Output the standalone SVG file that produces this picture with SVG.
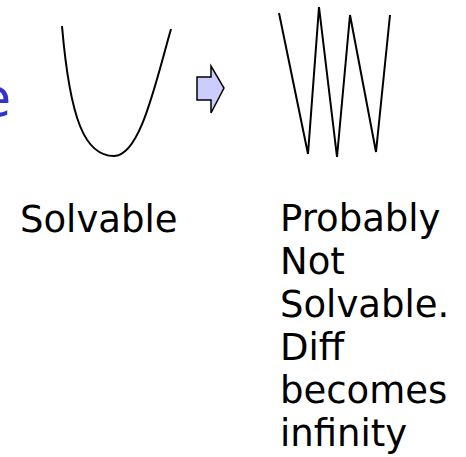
<svg xmlns="http://www.w3.org/2000/svg" width="466" height="457" viewBox="0 0 466 457">
<style>
.curve{fill:none;stroke:#000;stroke-width:2;stroke-linejoin:miter}
.lbl{font-family:"DejaVu Sans","Verdana",sans-serif;font-size:37px;fill:#000}
</style>
<rect width="466" height="457" fill="#fff"/>
<g id="clipped-word">
<text x="-22" y="116" style="font-family:'DejaVu Sans',sans-serif;font-size:54px;fill:#3333cc">e</text>
</g>
<g id="parabola">
<path class="curve" d="M62,26 C70,120 85,156 114,156 C140,156 155,85 171,29"/>
</g>
<g id="connectors">
<path d="M197,77 H211 V66 L224,88 L211,113 V100 H197 Z" fill="#ccccff" stroke="#000" stroke-width="1.5" stroke-linejoin="miter"/>
</g>
<g id="zigzag">
<polyline class="curve" points="279,13 308,154 319,7 337,157 350,15 376,152 390,15"/>
</g>
<g id="label-solvable">
<text class="lbl" x="20" y="232">Solvable</text>
</g>
<g id="label-not-solvable">
<text class="lbl" x="280" y="231">Probably</text>
<text class="lbl" x="280" y="274">Not</text>
<text class="lbl" x="280" y="317">Solvable.</text>
<text class="lbl" x="280" y="360">Diff</text>
<text class="lbl" x="280" y="403">becomes</text>
<text class="lbl" x="280" y="446">infinity</text>
</g>
</svg>
